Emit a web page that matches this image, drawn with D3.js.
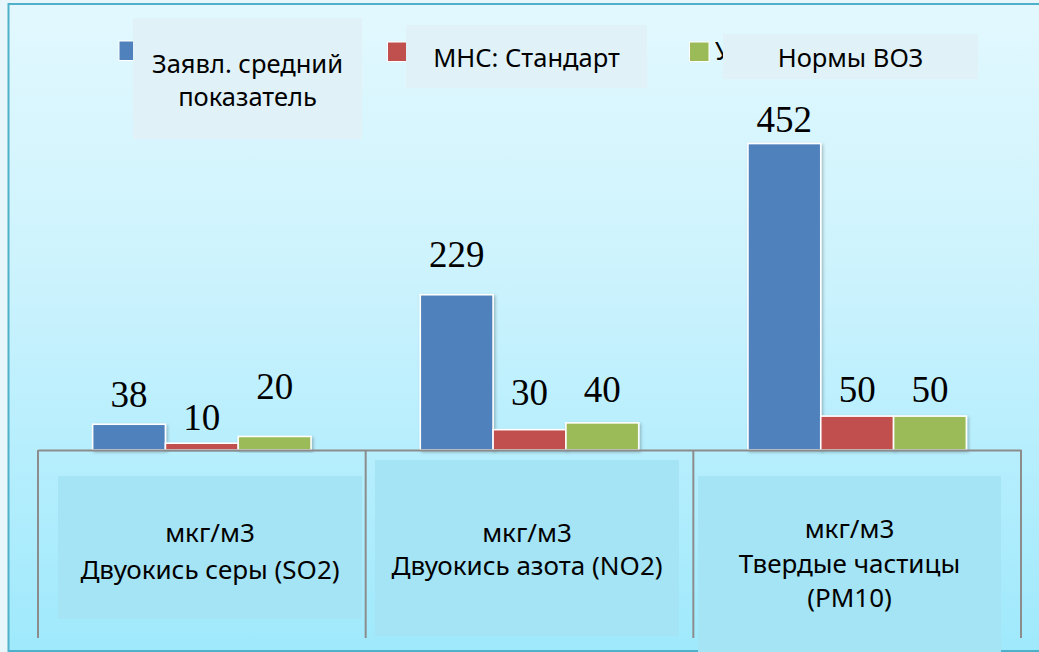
<!DOCTYPE html>
<html>
<head>
<meta charset="utf-8">
<script src="https://cdn.jsdelivr.net/npm/d3@7"></script>
<style>
  html, body { margin: 0; padding: 0; background: #e4f5fa; }
  svg { display: block; }
</style>
</head>
<body>
<svg id="chart" width="1039" height="652"></svg>
<script>
// ---- data ----
const categories = ["SO2", "NO2", "PM10"];
const categoryLines = [
  ["мкг/м3", "Двуокись серы (SO2)"],
  ["мкг/м3", "Двуокись азота (NO2)"],
  ["мкг/м3", "Твердые частицы", "(PM10)"]
];
const seriesNames = ["Заявл. средний показатель", "МНС: Стандарт", "Нормы ВОЗ"];
const seriesDeclared = [38, 229, 452];
const seriesMNS = [10, 30, 50];
const seriesWHO = [20, 40, 50];
const yDomain = [0, 500];

// ---- layout / style (not data) ----
const colors = ["#4f81bd", "#c0504d", "#9bbb59"];
const labelLift = [[17, 13, 37], [28, 25, 21], [12, 14, 14]];
const W = 1039, H = 652;
const svg = d3.select("#chart");
const defs = svg.append("defs");

const bg = defs.append("linearGradient").attr("id", "bg").attr("x1", 0).attr("y1", 0).attr("x2", 0).attr("y2", 1);
bg.append("stop").attr("offset", "0%").attr("stop-color", "#e2f8fe");
bg.append("stop").attr("offset", "40%").attr("stop-color", "#cdf3fd");
bg.append("stop").attr("offset", "70%").attr("stop-color", "#b6eefd");
bg.append("stop").attr("offset", "100%").attr("stop-color", "#9fe9fc");

const sh = defs.append("filter").attr("id", "shadow").attr("x", "-20%").attr("y", "-20%").attr("width", "140%").attr("height", "140%");
sh.append("feDropShadow").attr("dx", 1.5).attr("dy", 1.5).attr("stdDeviation", 1.5).attr("flood-color", "#000").attr("flood-opacity", 0.25);

// page outside
svg.append("rect").attr("x", 0).attr("y", 0).attr("width", W).attr("height", H).attr("fill", "#e6f6fb");
// slide frame
svg.append("rect").attr("x", 8.5).attr("y", 4).attr("width", W + 20).attr("height", 647)
  .attr("fill", "url(#bg)").attr("stroke", "#4eb0c9").attr("stroke-width", 2);

// ---- scales ----
const plotLeft = 38, plotRight = 1021, baseY = 450, topY = 111;
const x0 = d3.scaleBand().domain(categories).range([plotLeft, plotRight]).paddingInner(0).paddingOuter(0);
const x1 = d3.scaleBand().domain(d3.range(3)).range([0, x0.bandwidth()]).paddingInner(0).paddingOuter(0.75);
const y = d3.scaleLinear().domain(yDomain).range([baseY, topY]);

const allSeries = [seriesDeclared, seriesMNS, seriesWHO];
const rows = [];
categories.forEach((c, ci) => allSeries.forEach((s, si) => rows.push({ c, ci, si, v: s[ci] })));

// bars
svg.append("g").selectAll("rect").data(rows).join("rect")
  .attr("x", d => x0(d.c) + x1(d.si))
  .attr("y", d => y(d.v))
  .attr("width", x1.bandwidth())
  .attr("height", d => baseY - y(d.v))
  .attr("fill", d => colors[d.si])
  .attr("stroke", "#ffffff").attr("stroke-width", 1.6)
  .attr("filter", "url(#shadow)");

// value labels
svg.append("g").selectAll("text").data(rows).join("text")
  .attr("x", d => x0(d.c) + x1(d.si) + x1.bandwidth() / 2)
  .attr("y", d => y(d.v) - labelLift[d.ci][d.si])
  .attr("text-anchor", "middle")
  .attr("font-family", "'Liberation Serif', 'Times New Roman', serif")
  .attr("font-size", 37)
  .attr("fill", "#000")
  .text(d => d.v);

// axis baseline
const axis = svg.append("g").attr("transform", `translate(0,${baseY})`)
  .call(d3.axisBottom(x0).tickSize(0).tickSizeOuter(0).tickFormat(""));
axis.select(".domain").attr("stroke", "#8c8c8c").attr("stroke-width", 2);

// category dividers
const dividers = categories.map(c => x0(c)).concat([x0.range()[1]]);
svg.append("g").selectAll("line").data(dividers).join("line")
  .attr("x1", d => d).attr("x2", d => d)
  .attr("y1", baseY).attr("y2", 638)
  .attr("stroke", "#8c8c8c").attr("stroke-width", 2);

// category label boxes
const catBoxes = [
  { x: 58, y: 476, w: 304, h: 143, base: [541.7, 579] },
  { x: 375, y: 460, w: 304, h: 176, base: [541.7, 575] },
  { x: 698, y: 476, w: 303, h: 190, base: [538.3, 573.3, 607] }
];
const cg = svg.append("g").selectAll("g").data(categories).join("g");
cg.append("rect")
  .attr("x", (d, i) => catBoxes[i].x).attr("y", (d, i) => catBoxes[i].y)
  .attr("width", (d, i) => catBoxes[i].w).attr("height", (d, i) => catBoxes[i].h)
  .attr("fill", "#a5e4f5");
cg.each(function (d, i) {
  const b = catBoxes[i];
  d3.select(this).selectAll("text").data(categoryLines[i]).join("text")
    .attr("x", b.x + b.w / 2)
    .attr("y", (t, j) => b.base[j])
    .attr("text-anchor", "middle")
    .attr("font-family", "'Noto Sans', 'Open Sans', sans-serif")
    .attr("font-size", 26)
    .attr("fill", "#000")
    .text(t => t);
});

// legend markers
const legendMarkers = [{ x: 119, y: 41 }, { x: 387.5, y: 42 }, { x: 689.5, y: 42 }];
svg.append("g").selectAll("rect").data(seriesNames).join("rect")
  .attr("x", (d, i) => legendMarkers[i].x).attr("y", (d, i) => legendMarkers[i].y)
  .attr("width", 19.5).attr("height", 19.5)
  .attr("fill", (d, i) => colors[i])
  .attr("stroke", "#ffffff").attr("stroke-width", 1);
// fragment of original legend text peeking out
svg.append("text").attr("x", 715).attr("y", 60)
  .attr("font-family", "'Noto Sans', sans-serif").attr("font-size", 25).attr("fill", "#000")
  .text("У");

// legend label boxes
const legendBoxes = [
  { x: 133, y: 18, w: 229, h: 121, base: [72.7, 106], lines: ["Заявл. средний", "показатель"] },
  { x: 406, y: 25, w: 241, h: 63, base: [66.7], lines: ["МНС: Стандарт"] },
  { x: 723, y: 34, w: 255, h: 45, base: [66.7], lines: ["Нормы ВОЗ"] }
];
const lg = svg.append("g").selectAll("g").data(seriesNames).join("g");
lg.append("rect")
  .attr("x", (d, i) => legendBoxes[i].x).attr("y", (d, i) => legendBoxes[i].y)
  .attr("width", (d, i) => legendBoxes[i].w).attr("height", (d, i) => legendBoxes[i].h)
  .attr("fill", "#e0f2f8");
lg.each(function (d, i) {
  const b = legendBoxes[i];
  d3.select(this).selectAll("text").data(b.lines).join("text")
    .attr("x", b.x + b.w / 2)
    .attr("y", (t, j) => b.base[j])
    .attr("text-anchor", "middle")
    .attr("font-family", "'Noto Sans', 'Open Sans', sans-serif")
    .attr("font-size", 25.5)
    .attr("fill", "#000")
    .text(t => t);
});
</script>
</body>
</html>
